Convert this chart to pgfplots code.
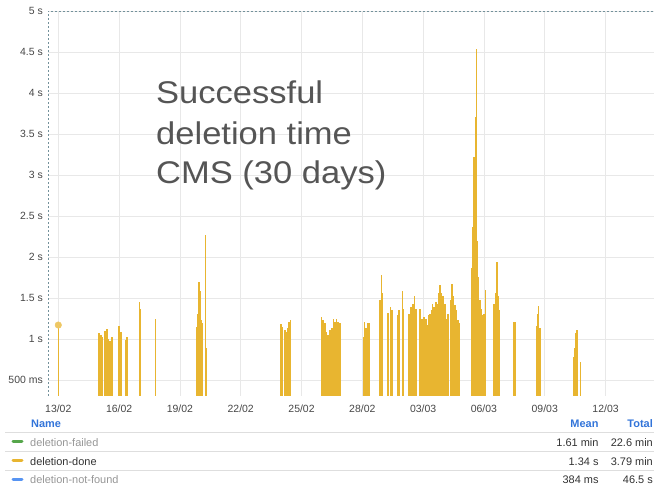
\documentclass[border=0pt]{standalone}
\usepackage{fontspec}
\setmainfont{Liberation Sans}
\usepackage{graphicx}
\usepackage{pgfplots}
\pgfplotsset{compat=1.18}
\definecolor{barcol}{RGB}{232,181,48}
\definecolor{gridcol}{RGB}{232,232,232}
\definecolor{tickcol}{RGB}{70,70,70}
\definecolor{axcol}{RGB}{115,145,155}
\definecolor{titlecol}{RGB}{85,85,85}
\definecolor{hdrcol}{RGB}{50,116,217}
\definecolor{sepcol}{RGB}{222,222,222}
\definecolor{hidcol}{RGB}{150,150,150}
\definecolor{txtcol}{RGB}{50,50,50}
\definecolor{greencol}{RGB}{86,166,75}
\definecolor{bluecol}{RGB}{87,148,242}
\begin{document}
\begin{tikzpicture}[x=1bp,y=1bp]
\useasboundingbox (0,0) rectangle (654,487);
\begin{axis}[
  at={(48bp,91bp)}, anchor=south west,
  scale only axis, width=606bp, height=385bp,
  xmin=-0.508, xmax=29.39, ymin=0.305, ymax=5,
  axis line style={draw=none},
  major tick length=0pt,
  grid=major,
  major grid style={draw=gridcol, line width=0.6bp},
  xtick={0,3,6,9,12,15,18,21,24,27},
  xticklabels={13/02,16/02,19/02,22/02,25/02,28/02,03/03,06/03,09/03,12/03},
  ytick={0.5,1,1.5,2,2.5,3,3.5,4,4.5,5},
  yticklabels={500 ms,1 s,1.5 s,2 s,2.5 s,3 s,3.5 s,4 s,4.5 s,5 s},
  tick label style={font=\fontsize{10.5}{12}\selectfont, text=tickcol},
  xticklabel style={anchor=north, inner sep=0pt, yshift=-9bp},
  yticklabel style={anchor=east, inner sep=0pt, xshift=-5bp},
  /pgf/number format/assume math mode=true,
]
% main bars
\addplot[ycomb, draw=barcol, line width=1.6bp] table {
x y
2.01 1.07
2.11 1.05
2.19 1.02
2.29 1.10
2.39 1.12
2.47 1.00
2.55 0.98
2.65 1.03
2.99 1.16
3.08 1.09
3.31 0.99
3.37 1.02
3.42 1.03
4.00 1.45
4.03 1.21
4.06 1.37
6.83 1.15
6.88 1.30
6.94 1.70
6.99 1.58
7.05 1.23
7.12 1.20
10.99 1.18
11.07 1.15
11.17 1.11
11.22 1.09
11.30 1.13
11.38 1.21
11.46 1.23
12.99 1.27
13.07 1.23
13.16 1.19
13.24 1.09
13.32 1.05
13.40 1.11
13.49 1.13
13.57 1.25
13.65 1.21
13.73 1.24
13.81 1.21
13.90 1.19
15.05 1.02
15.11 1.21
15.19 1.14
15.28 1.19
15.35 1.19
15.87 1.48
15.97 1.56
16.28 1.32
16.38 1.39
16.45 1.35
16.74 1.29
16.82 1.35
16.99 1.58
17.04 1.37
17.31 1.31
17.40 1.39
17.50 1.43
17.58 1.52
17.65 1.37
17.84 1.37
17.93 1.25
17.98 1.19
18.05 1.27
18.14 1.25
18.20 1.17
18.27 1.29
18.35 1.31
18.41 1.35
18.47 1.43
18.55 1.39
18.62 1.45
18.70 1.43
18.78 1.56
18.84 1.66
18.91 1.56
18.99 1.52
19.08 1.43
19.16 1.25
19.24 1.31
19.34 1.48
19.41 1.67
19.49 1.52
19.57 1.41
19.65 1.35
19.73 1.23
19.78 1.19
20.39 1.86
20.46 2.37
20.52 3.22
20.58 3.71
20.68 2.20
20.74 1.76
20.80 1.48
20.87 1.37
20.94 1.29
20.98 1.31
21.03 1.31
21.08 1.60
21.51 1.43
21.56 1.56
21.63 1.94
21.68 1.52
21.73 1.35
22.49 1.21
22.54 1.21
23.59 1.16
23.65 1.30
23.70 1.40
23.76 1.14
25.44 0.78
25.50 0.89
25.55 1.07
25.60 1.11
};
% thin spikes
\addplot[ycomb, draw=barcol, line width=0.9bp] table {
x y
0.00 1.17
4.78 1.25
7.24 2.27
7.29 0.89
15.92 1.78
20.63 4.54
25.78 0.72
};
\addplot[only marks, mark=*, mark size=3.3bp, mark options={draw=barcol!75!white, fill=barcol!75!white}] coordinates {(0,1.17)};
\draw[axcol, line width=0.8bp, dash pattern=on 2bp off 2bp] (rel axis cs:0,0) -- (rel axis cs:0,1) -- (rel axis cs:1,1);
\end{axis}
% title
\begin{scope}[every node/.style={anchor=base west, inner sep=0pt, text=titlecol, font=\fontsize{31.5}{40}\selectfont}]
\node at (156,383) {\scalebox{1.1}[1]{Successful}};
\node at (156,342) {\scalebox{1.1}[1]{deletion time}};
\node at (156,303) {\scalebox{1.1}[1]{CMS (30 days)}};
\end{scope}
% legend table
\begin{scope}[every node/.style={inner sep=0pt, font=\fontsize{11}{13}\selectfont}]
\node[anchor=mid west, text=hdrcol, font=\fontsize{11}{13}\selectfont\bfseries] at (31,62.5) {Name};
\node[anchor=mid east, text=hdrcol, font=\fontsize{11}{13}\selectfont\bfseries] at (598.7,62.5) {Mean};
\node[anchor=mid east, text=hdrcol, font=\fontsize{11}{13}\selectfont\bfseries] at (653,62.5) {Total};
\draw[sepcol, line width=0.8bp] (5,54.7) -- (654,54.7);
\draw[sepcol, line width=0.8bp] (5,36) -- (654,36);
\draw[sepcol, line width=0.8bp] (5,17) -- (654,17);
\draw[greencol, line width=3bp, line cap=round] (13,45.3) -- (22,45.3);
\draw[barcol, line width=3bp, line cap=round] (13,26.3) -- (22,26.3);
\draw[bluecol, line width=3bp, line cap=round] (13,7.7) -- (22,7.7);
\node[anchor=mid west, text=hidcol] at (30,43.5) {deletion-failed};
\node[anchor=mid west, text=txtcol] at (30,24.5) {deletion-done};
\node[anchor=mid west, text=hidcol] at (30,5.9) {deletion-not-found};
\node[anchor=mid east, text=txtcol] at (598.7,43.5) {1.61 min};
\node[anchor=mid east, text=txtcol] at (598.7,24.5) {1.34 s};
\node[anchor=mid east, text=txtcol] at (598.7,5.9) {384 ms};
\node[anchor=mid east, text=txtcol] at (653,43.5) {22.6 min};
\node[anchor=mid east, text=txtcol] at (653,24.5) {3.79 min};
\node[anchor=mid east, text=txtcol] at (653,5.9) {46.5 s};
\end{scope}
\end{tikzpicture}
\end{document}
